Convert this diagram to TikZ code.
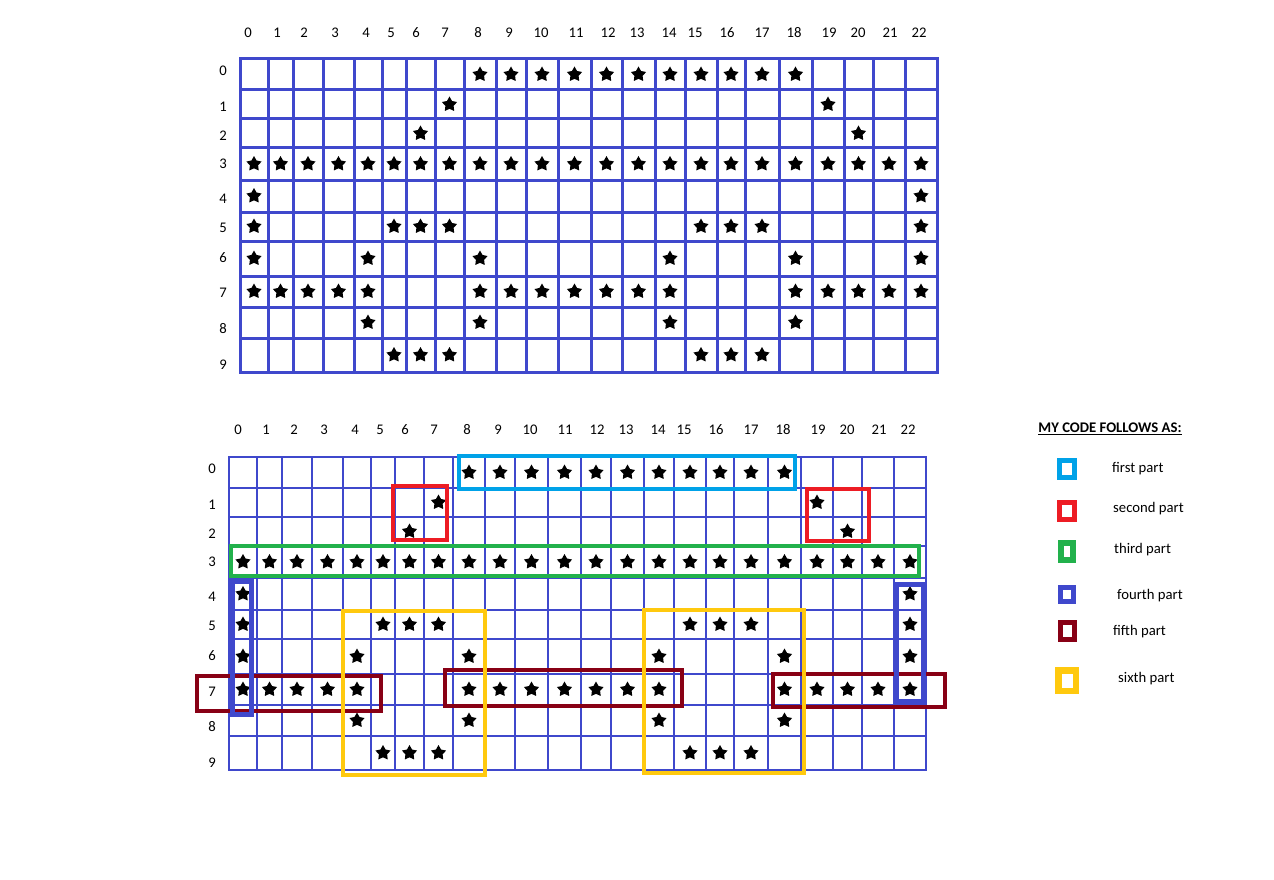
\documentclass[tikz,border=0pt]{standalone}
\usepackage{fontspec}
\setmainfont{Carlito}
\usepackage{tikz}
\usetikzlibrary{shapes.geometric}
\definecolor{gridblue}{HTML}{3F48CC}
\definecolor{skyblue}{HTML}{00A2E8}
\definecolor{partred}{HTML}{ED1C24}
\definecolor{partgreen}{HTML}{22B14C}
\definecolor{maroon}{HTML}{880015}
\definecolor{gold}{HTML}{FFC90E}

\begin{document}
\begin{tikzpicture}[x=1pt,y=-1pt,font=\fontsize{14.7}{17}\selectfont,
  gridline/.style={draw=gridblue,line cap=rect},
  starmark/.style={star,star points=5,star point ratio=1.85,fill=black,
                   inner sep=0pt,minimum size=16pt},
  numlab/.style={inner sep=0pt},
  part/.style={line width=4pt},
  key/.style={draw,line width=5pt,minimum width=15pt,minimum height=17pt,inner sep=0pt},
  keytext/.style={anchor=west,inner sep=0pt}]
  \fill[white] (0,0) rectangle (1274,880);
  \useasboundingbox (0,0) rectangle (1274,880);
  % upper grid
  \foreach \xa/\xb [count=\i from 0] in {240/268,268/293,293/323,323/354,354/382,382/406,
      406/435,435/464,464/496,496/526,526/558,558/591,591/622,622/655,655/685,685/717,
      717/745,745/779,779/812,812/844,844/873,873/905,905/937}
    {\draw[gridline,line width=3pt] (\xa,59) -- (\xa,372) (\xb,59) -- (\xb,372);
     \coordinate (a-col\i) at ({(\xa+\xb)/2},0);}
  \foreach \ya/\yb [count=\j from 0] in {59/90,90/119,119/148,148/180,180/212,212/241,
      241/276,276/307,307/338,338/372}
    {\draw[gridline,line width=3pt] (240,\ya) -- (937,\ya) (240,\yb) -- (937,\yb);
     \coordinate (a-row\j) at (0,{(\ya+\yb)/2});}
  \foreach \x [count=\i from 0] in {248,277,304,335,366,391,416,445,478,509,541,576,
      608,637,669,695,727,762,794,829,858,890,919}
    \node[numlab] (a-cl\i) at (\x,33) {\i};
  \foreach \y [count=\j from 0] in {71,107,136,164,199,228,258,293,329,365}
    \node[numlab] (a-rl\j) at (223,\y) {\j};
  % lower grid
  \foreach \xa/\xb [count=\i from 0] in {229/257,257/282,282/312,312/343,343/371,371/395,
      395/424,424/453,453/485,485/515,515/548,548/581,581/611,611/644,644/674,674/706,
      706/734,734/768,768/801,801/833,833/862,862/894,894/926}
    {\draw[gridline,line width=2pt] (\xa,457) -- (\xa,770) (\xb,457) -- (\xb,770);
     \coordinate (b-col\i) at ({(\xa+\xb)/2},0);}
  \foreach \ya/\yb [count=\j from 0] in {457/488,488/517,517/546,546/578,578/610,610/639,
      639/674,674/705,705/736,736/770}
    {\draw[gridline,line width=2pt] (229,\ya) -- (926,\ya) (229,\yb) -- (926,\yb);
     \coordinate (b-row\j) at (0,{(\ya+\yb)/2});}
  \foreach \x [count=\i from 0] in {238,266,294,324,355,380,405,434,467,498,530,565,
      597,626,658,684,716,751,783,818,847,879,908}
    \node[numlab] (b-cl\i) at (\x,430) {\i};
  \foreach \y [count=\j from 0] in {469,505,534,562,597,626,656,692,727,763}
    \node[numlab] (b-rl\j) at (212,\y) {\j};
  % stars, same pattern in both grids
  \foreach \g in {a,b}
    \foreach \r/\cs in {0/{8,...,18},1/{7,19},2/{6,20},3/{0,...,22},4/{0,22},
        5/{0,5,6,7,15,16,17,22},6/{0,4,8,14,18,22},
        7/{0,1,2,3,4,8,9,10,11,12,13,14,18,19,20,21,22},8/{4,8,14,18},
        9/{5,6,7,15,16,17}}
      \foreach \c in \cs
        \node[starmark] (\g-\r-\c) at (\g-col\c |- \g-row\r) {};
  % parts
  \draw[part,skyblue] (459,456) rectangle (795,489);
  \draw[part,partred] (393,486) rectangle (447,540);
  \draw[part,partred] (807,489) rectangle (869,541);
  \draw[part,partgreen] (231,546) rectangle (919,576);
  \draw[part,maroon] (197,676) rectangle (381,711);
  \draw[part,maroon] (445,670) rectangle (682,706);
  \draw[part,maroon] (773,674) rectangle (945,707);
  \draw[part,gold] (343,611) rectangle (485,775);
  \draw[part,gold] (644,610) rectangle (804,773);
  \draw[part,gridblue,line width=5pt] (232,581) rectangle (251,714);
  \draw[part,gridblue,line width=5pt] (896,584) rectangle (923,701);
  % legend
  \node[font=\bfseries\fontsize{14.7}{17}\selectfont] (title) at (1110,429)
    {\underline{MY CODE FOLLOWS AS:}};
  \node[key,draw=skyblue] (k1) at (1067,469) {};
  \node[key,draw=partred] (k2) at (1067,510.5) {};
  \node[key,draw=partgreen,minimum width=12pt,line width=6pt] (k3) at (1067,551.5) {};
  \node[key,draw=gridblue,minimum width=13pt,minimum height=14pt] (k4) at (1067,594.5) {};
  \node[key,draw=maroon,minimum width=14pt] (k5) at (1067.5,631) {};
  \node[key,draw=gold,line width=6.5pt,minimum width=17.5pt,minimum height=20.5pt]
    (k6) at (1067,680.5) {};
  \node[keytext] (t1) at (1112,469) {first part};
  \node[keytext] (t2) at (1113,509) {second part};
  \node[keytext] (t3) at (1114,550) {third part};
  \node[keytext] (t4) at (1117,596) {fourth part};
  \node[keytext] (t5) at (1113,632) {fifth part};
  \node[keytext] (t6) at (1118,679) {sixth part};
\end{tikzpicture}
\end{document}
